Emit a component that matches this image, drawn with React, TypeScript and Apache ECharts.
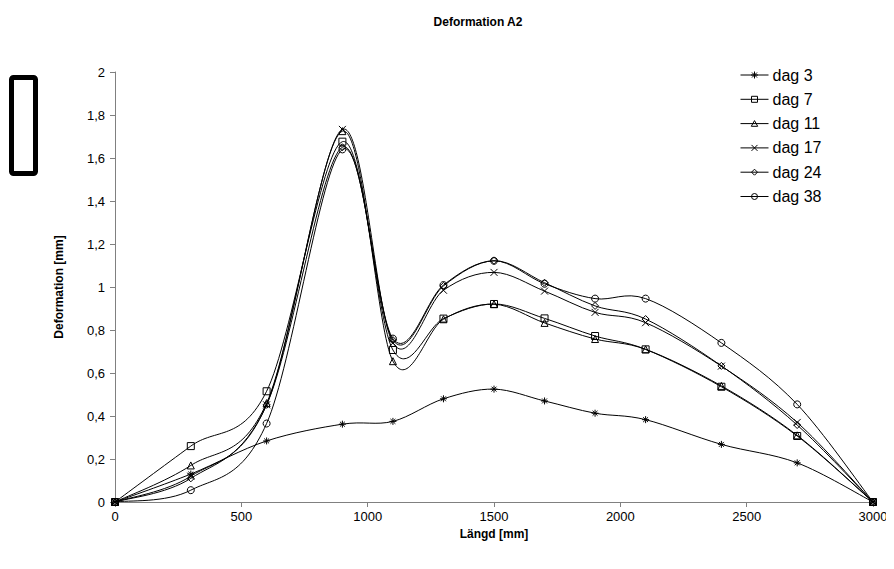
import React, { useEffect, useRef } from "react";
import * as echarts from "echarts";

const lengths = [0, 300, 600, 900, 1100, 1300, 1500, 1700, 1900, 2100, 2400, 2700, 3000];
const dag3 = [0, 0.13, 0.284, 0.362, 0.375, 0.48, 0.525, 0.47, 0.413, 0.383, 0.268, 0.182, 0];
const dag7 = [0, 0.26, 0.515, 1.676, 0.707, 0.853, 0.921, 0.854, 0.772, 0.71, 0.536, 0.307, 0];
const dag11 = [0, 0.17, 0.46, 1.725, 0.655, 0.85, 0.92, 0.833, 0.758, 0.71, 0.54, 0.31, 0];
const dag17 = [0, 0.12, 0.452, 1.733, 0.74, 0.985, 1.068, 0.981, 0.882, 0.834, 0.632, 0.37, 0];
const dag24 = [0, 0.11, 0.452, 1.65, 0.753, 1.005, 1.122, 1.02, 0.912, 0.851, 0.633, 0.358, 0];
const dag38 = [0, 0.055, 0.365, 1.64, 0.76, 1.009, 1.122, 1.015, 0.946, 0.946, 0.74, 0.454, 0];
const yTicks = ["0", "0,2", "0,4", "0,6", "0,8", "1", "1,2", "1,4", "1,6", "1,8", "2"];

const seriesNames = ["dag 3", "dag 7", "dag 11", "dag 17", "dag 24", "dag 38"];
const seriesValues = [dag3, dag7, dag11, dag17, dag24, dag38];
const symbols = [
  "path://M0,5 L10,5 M5,0 L5,10 M1.5,1.5 L8.5,8.5 M8.5,1.5 L1.5,8.5",
  "rect",
  "triangle",
  "path://M0,0 L10,10 M10,0 L0,10",
  "diamond",
  "circle",
];
const LINE = "M0,3.5 L28,3.5 ";
const legendIcons = [
  "path://" + LINE + "M10.5,3.5 L17.5,3.5 M14,0 L14,7 M11.5,1 L16.5,6 M16.5,1 L11.5,6",
  "path://" + LINE + "M11,0.5 L17,0.5 L17,6.5 L11,6.5 Z M0,0 M28,7",
  "path://" + LINE + "M14,0.5 L17.2,6.2 L10.8,6.2 Z M0,0 M28,7",
  "path://" + LINE + "M11,0.5 L17,6.5 M17,0.5 L11,6.5 M0,0 M28,7",
  "path://" + LINE + "M14,0.5 L17,3.5 L14,6.5 L11,3.5 Z M0,0 M28,7",
  "path://" + LINE + "M11,3.5 A3,3 0 1 0 17,3.5 A3,3 0 1 0 11,3.5 Z M0,0 M28,7",
];

function smoothSegment(vals: number[]) {
  return (params: any, api: any) => {
    const i = params.dataIndex;
    const n = lengths.length;
    if (i >= n - 1) return null;
    const pt = (k: number) => {
      const kk = Math.max(0, Math.min(n - 1, k));
      return api.coord([lengths[kk], vals[kk]]);
    };
    const p0 = pt(i - 1);
    const p1 = pt(i);
    const p2 = pt(i + 1);
    const p3 = pt(i + 2);
    const t = 1 / 6;
    return {
      type: "bezierCurve",
      shape: {
        x1: p1[0],
        y1: p1[1],
        x2: p2[0],
        y2: p2[1],
        cpx1: p1[0] + (p2[0] - p0[0]) * t,
        cpy1: p1[1] + (p2[1] - p0[1]) * t,
        cpx2: p2[0] - (p3[0] - p1[0]) * t,
        cpy2: p2[1] - (p3[1] - p1[1]) * t,
      },
      style: { stroke: "#000", lineWidth: 1, fill: null },
      silent: true,
    };
  };
}

export default function App() {
  const ref = useRef<HTMLDivElement>(null);
  useEffect(() => {
    if (!ref.current) return;
    const chart = echarts.init(ref.current, null, { renderer: "svg" });
    const font = "Liberation Sans, Arial, sans-serif";
    const curveSeries = seriesNames.map((name, i) => ({
      name,
      type: "custom",
      renderItem: smoothSegment(seriesValues[i]),
      data: lengths.map((x, j) => [x, seriesValues[i][j]]),
      clip: false,
      z: 1,
      emphasis: { disabled: true },
    }));
    const markerSeries = seriesNames.map((name, i) => ({
      name,
      type: "line",
      data: lengths.map((x, j) => [x, seriesValues[i][j]]),
      symbol: symbols[i],
      symbolSize: 7,
      showSymbol: true,
      symbolKeepAspect: true,
      lineStyle: { color: "#000", width: 0, opacity: 0 },
      itemStyle: { color: "rgba(255,255,255,0)", borderColor: "#000", borderWidth: 1 },
      z: 3,
      emphasis: { disabled: true },
    }));
    chart.setOption({
      animation: false,
      backgroundColor: "#fff",
      textStyle: { fontFamily: font },
      title: {
        text: "Deformation A2",
        left: 473,
        top: 11,
        textAlign: "center",
        textStyle: { fontSize: 12, fontWeight: "bold", color: "#000", fontFamily: font },
      },
      legend: {
        orient: "vertical",
        left: 735,
        top: 62,
        itemWidth: 28,
        itemHeight: 7,
        itemGap: 8.3,
        itemStyle: { color: "rgba(255,255,255,0)", borderColor: "#000", borderWidth: 1 },
        textStyle: { fontSize: 16, color: "#000", fontFamily: font, padding: [0, 0, 0, -1] },
        data: seriesNames.map((name, i) => ({ name, icon: legendIcons[i] })),
      },
      grid: { left: 115, right: 21, top: 72, bottom: 67 },
      xAxis: {
        type: "value",
        min: 0,
        max: 3000,
        interval: 500,
        name: "Längd [mm]",
        nameLocation: "middle",
        nameGap: 24,
        nameTextStyle: { fontSize: 12, fontWeight: "bold", color: "#000", fontFamily: font },
        axisLine: { lineStyle: { color: "#808080", width: 1 } },
        axisTick: { show: true, length: 5, lineStyle: { color: "#808080" } },
        axisLabel: {
          fontSize: 13,
          color: "#000",
          margin: 8,
          fontFamily: font,
          formatter: (v: number) => String(v),
        },
        splitLine: { show: false },
      },
      yAxis: {
        type: "value",
        min: 0,
        max: 2,
        interval: 0.2,
        name: "Deformation [mm]",
        nameLocation: "middle",
        nameRotate: 90,
        nameGap: 50,
        nameTextStyle: { fontSize: 12, fontWeight: "bold", color: "#000", fontFamily: font },
        axisLine: { show: true, lineStyle: { color: "#808080", width: 1 } },
        axisTick: { show: true, length: 5, lineStyle: { color: "#808080" } },
        axisLabel: {
          fontSize: 13,
          color: "#000",
          margin: 10,
          fontFamily: font,
          formatter: (v: number) => yTicks[Math.round(v / 0.2)] ?? String(v),
        },
        splitLine: { show: false },
      },
      graphic: [
        {
          type: "rect",
          left: 9,
          top: 75,
          shape: { width: 24, height: 96, r: 2 },
          style: { fill: "#fff", stroke: "#000", lineWidth: 5 },
        },
      ],
      series: [...curveSeries, ...markerSeries],
    });
    return () => chart.dispose();
  }, []);
  return <div ref={ref} style={{ width: 894, height: 569, margin: -8 }} />;
}
